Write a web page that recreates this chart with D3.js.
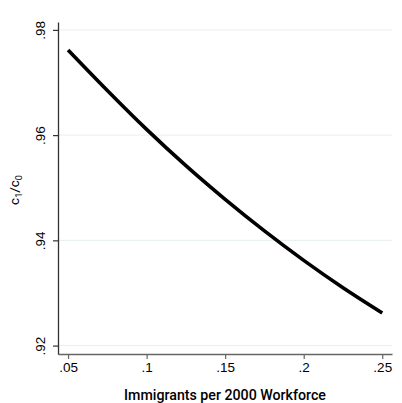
<!DOCTYPE html>
<html>
<head>
<meta charset="utf-8">
<script src="https://cdn.jsdelivr.net/npm/d3@7"></script>
<style>
  html, body { margin: 0; padding: 0; background: #fff; }
  svg { display: block; font-family: Roboto, "Liberation Sans", sans-serif; }
</style>
</head>
<body>
<svg id="chart" width="402" height="403"></svg>
<script>
// Immigration share vs. consumption ratio c1/c0
const immigrants = [0.05, 0.075, 0.10, 0.125, 0.15, 0.175, 0.20, 0.225, 0.25];
const consumptionRatio = [0.9762, 0.9685, 0.9611, 0.9542, 0.9478, 0.9418, 0.9362, 0.9310, 0.9262];
const xTicks = [0.05, 0.10, 0.15, 0.20, 0.25];
const xTickLabels = [".05", ".1", ".15", ".2", ".25"];
const yTicks = [0.92, 0.94, 0.96, 0.98];
const yTickLabels = [".92", ".94", ".96", ".98"];

const svg = d3.select("#chart");
const plotLeft = 58, plotRight = 392, plotTop = 22, plotBottom = 354;

const x = d3.scaleLinear().domain([0.0436, 0.2562]).range([plotLeft, plotRight]);
const y = d3.scaleLinear().domain([0.9184, 0.9815]).range([plotBottom, plotTop]);

// horizontal grid
svg.append("g")
  .selectAll("line")
  .data(yTicks)
  .join("line")
  .attr("x1", plotLeft).attr("x2", plotRight)
  .attr("y1", d => y(d)).attr("y2", d => y(d))
  .attr("stroke", "#e6eff0").attr("stroke-width", 1);

// x axis
const xAxis = d3.axisBottom(x)
  .tickValues(xTicks)
  .tickFormat((d, i) => xTickLabels[i])
  .tickSize(5).tickSizeOuter(0).tickPadding(3);
const gx = svg.append("g").attr("transform", `translate(0,${plotBottom})`).call(xAxis);
gx.select(".domain").attr("stroke", "#666").attr("stroke-width", 1.6);
gx.selectAll(".tick line").attr("stroke", "#666").attr("stroke-width", 1.2);
gx.selectAll(".tick text").attr("fill", "#000").attr("font-size", 13.5).attr("dy", "0.75em");

// y axis
const yAxis = d3.axisLeft(y)
  .tickValues(yTicks)
  .tickFormat((d, i) => yTickLabels[i])
  .tickSize(5).tickSizeOuter(0).tickPadding(0);
const gy = svg.append("g").attr("transform", `translate(${plotLeft},0)`).call(yAxis);
gy.select(".domain").attr("stroke", "#333").attr("stroke-width", 1.3);
gy.selectAll(".tick line").attr("stroke", "#333").attr("stroke-width", 1.2);
gy.selectAll(".tick text")
  .attr("fill", "#000").attr("font-size", 13.5)
  .attr("x", 0).attr("dy", 0)
  .attr("text-anchor", "middle")
  .attr("transform", "translate(-13,0) rotate(-90)");

// curve
const line = d3.line()
  .x((d, i) => x(immigrants[i]))
  .y(d => y(d))
  .curve(d3.curveMonotoneX);
svg.append("path")
  .datum(consumptionRatio)
  .attr("d", line)
  .attr("fill", "none")
  .attr("stroke", "#000")
  .attr("stroke-width", 3.6);

// axis titles
svg.append("text")
  .attr("x", (plotLeft + plotRight) / 2).attr("y", 400)
  .attr("text-anchor", "middle")
  .attr("font-size", 14.2).attr("font-weight", 500)
  .text("Immigrants per 2000 Workforce");

const yt = svg.append("text")
  .attr("transform", `translate(19,${(plotTop + plotBottom) / 2 + 2}) rotate(-90)`)
  .attr("text-anchor", "middle")
  .attr("font-size", 13.5);
yt.append("tspan").text("c");
yt.append("tspan").attr("font-size", 9).attr("dy", 3).text("1");
yt.append("tspan").attr("dy", -3).text("/c");
yt.append("tspan").attr("font-size", 9).attr("dy", 3).text("0");
</script>
</body>
</html>
